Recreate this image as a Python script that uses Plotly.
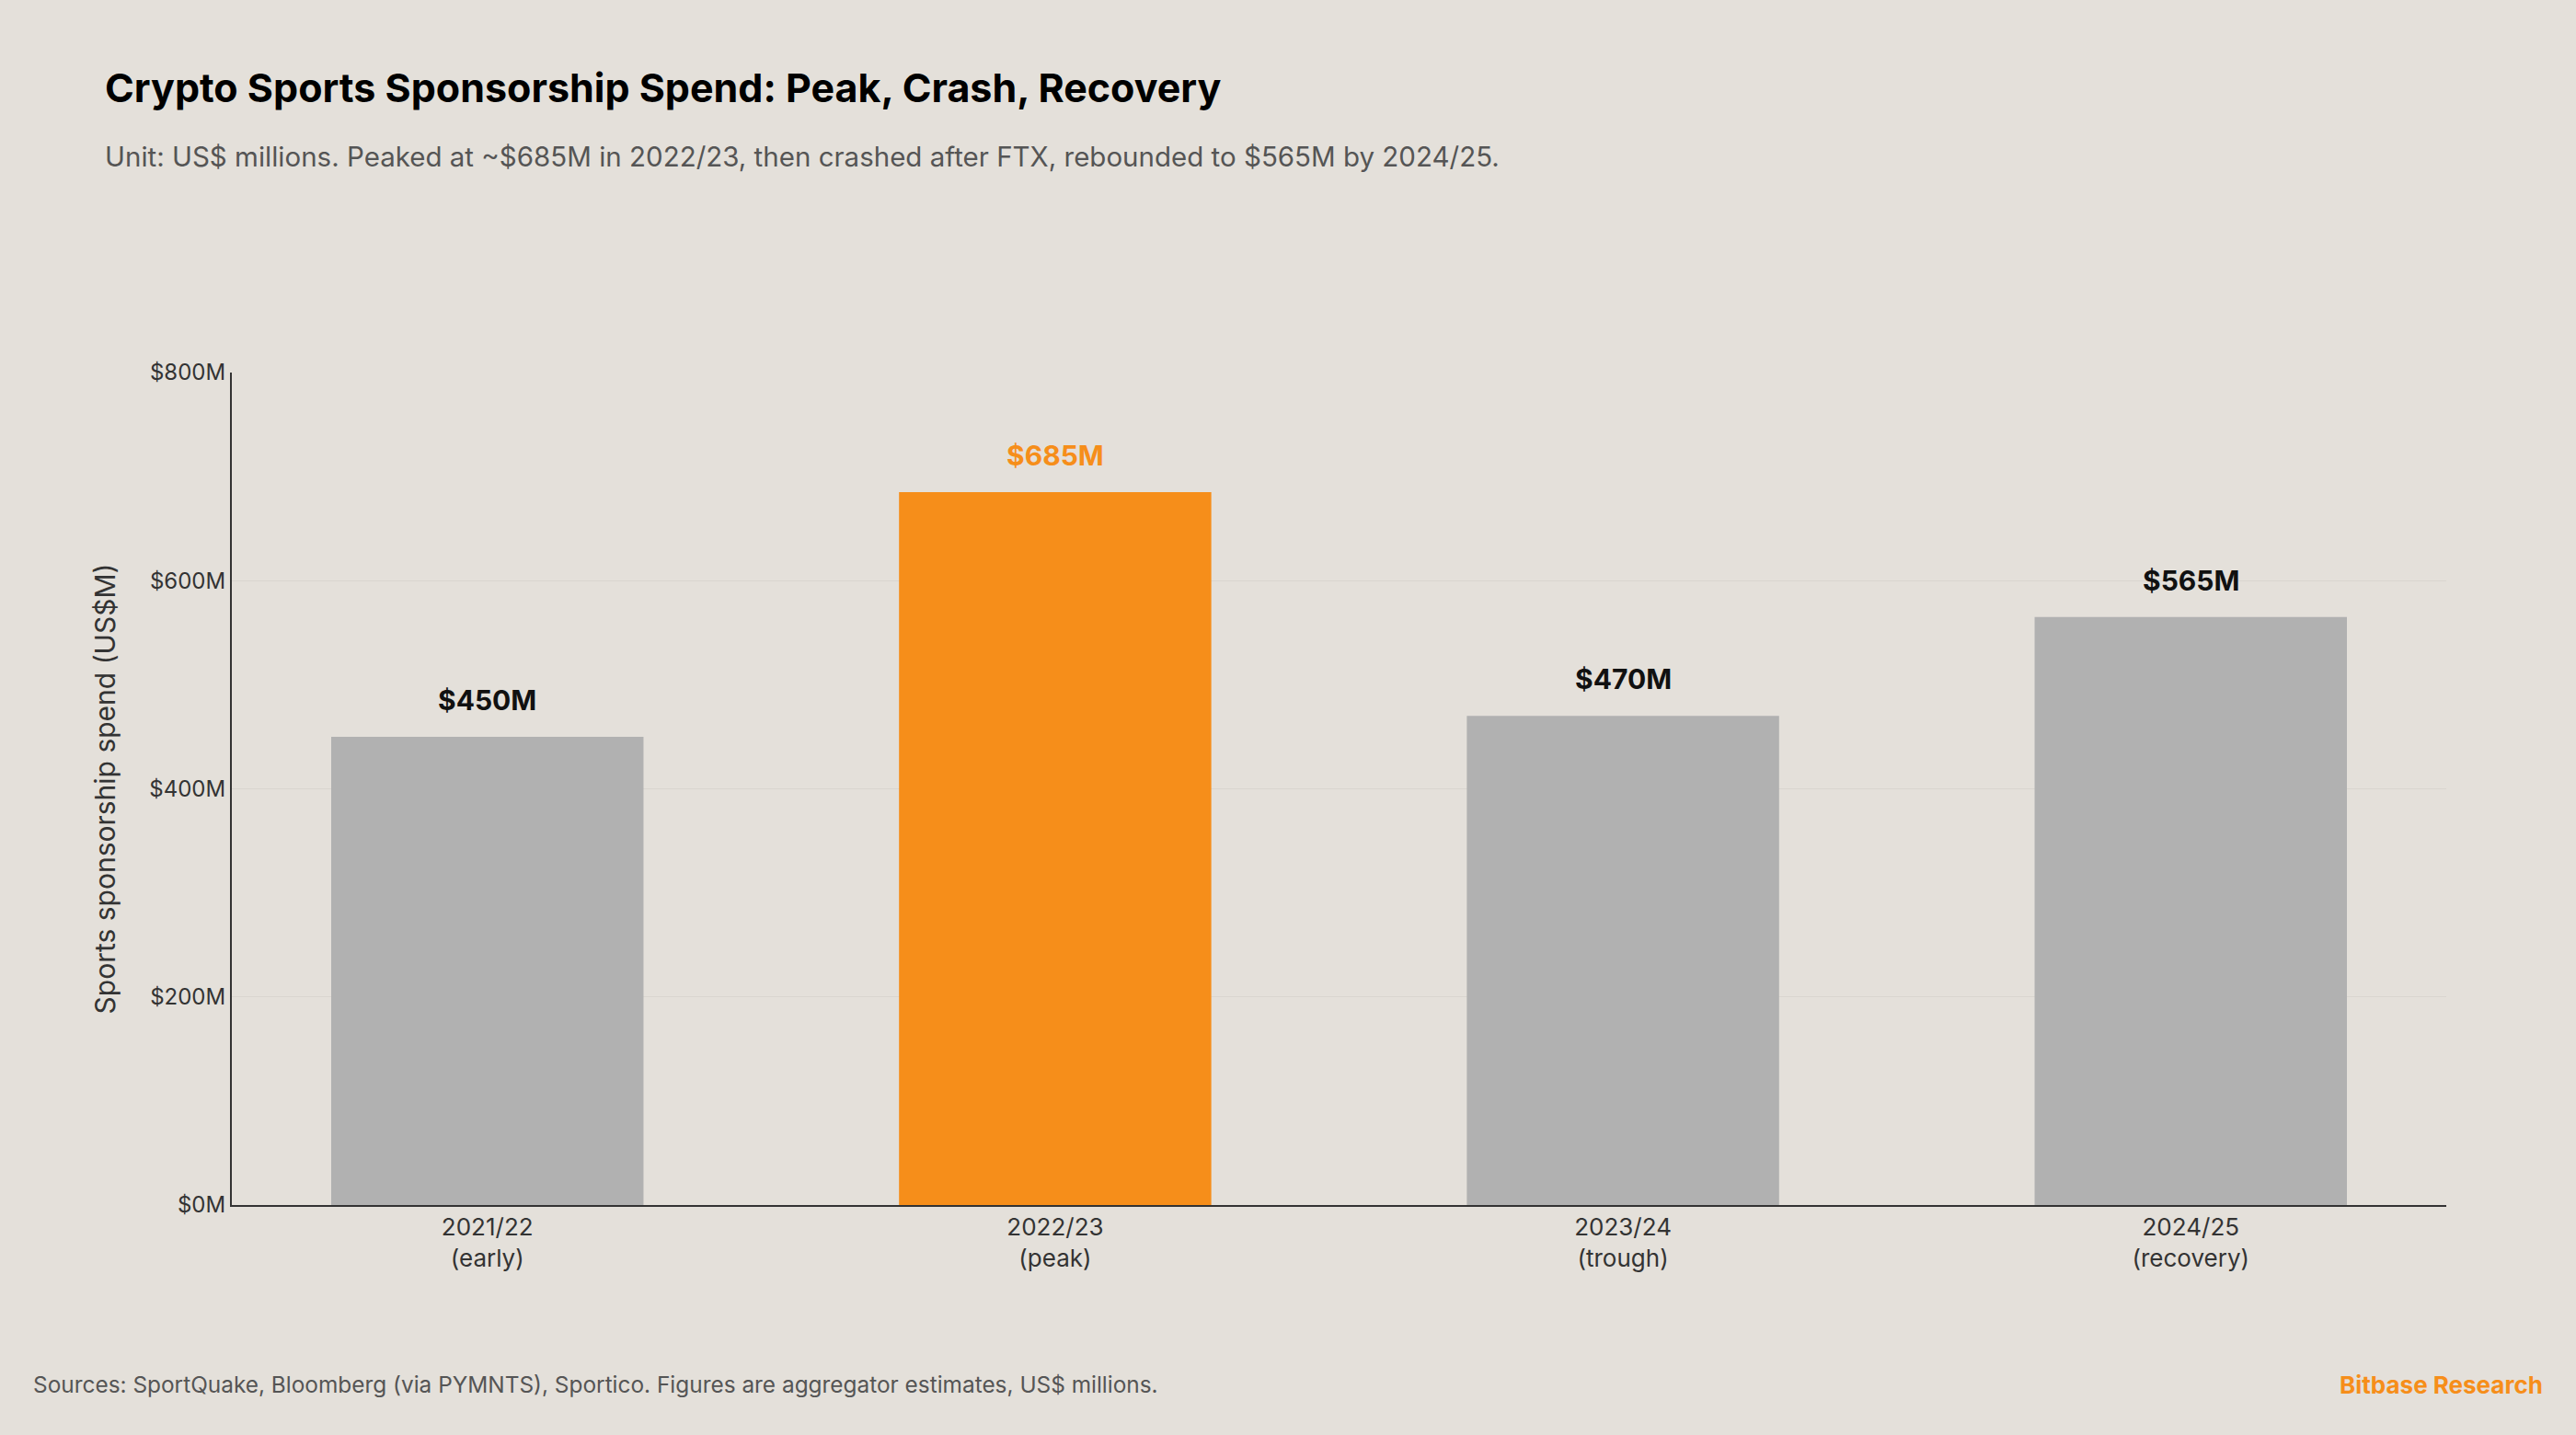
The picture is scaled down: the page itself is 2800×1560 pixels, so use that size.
import plotly.graph_objects as go

categories = ["2021/22<br>(early)", "2022/23<br>(peak)", "2023/24<br>(trough)", "2024/25<br>(recovery)"]
values = [450, 685, 470, 565]
labels = ["$450M", "$685M", "$470M", "$565M"]
highlight = [False, True, False, False]
tick_vals = [0, 200, 400, 600, 800]
tick_text = ["$0M", "$200M", "$400M", "$600M", "$800M"]

ORANGE = "#F68E1A"
GRAY = "#B1B1B1"
BG = "#E4E0DA"
FONT = "Inter, Lato, sans-serif"

colors = [ORANGE if h else GRAY for h in highlight]

fig = go.Figure()
fig.add_trace(go.Bar(x=categories, y=values, marker=dict(color=colors, line=dict(width=0)),
                     width=0.55, hoverinfo="skip"))

for c, v, t, h in zip(categories, values, labels, highlight):
    fig.add_annotation(x=c, y=v, text=f"<b>{t}</b>", showarrow=False, yshift=40,
                       font=dict(family=FONT, size=30, color=ORANGE if h else "#111111"))

fig.update_layout(
    width=2800, height=1560,
    paper_bgcolor=BG, plot_bgcolor=BG,
    margin=dict(l=252, r=141, t=405, b=250),
    showlegend=False,
    font=dict(family=FONT, color="#333333"),
    bargap=0.45,
)
fig.update_xaxes(range=[-0.45, 3.45], showline=True, linecolor="#333333", linewidth=2,
                 showgrid=False, ticks="", tickfont=dict(size=26, color="#333333"))
fig.update_yaxes(range=[0, 800], tickvals=tick_vals, ticktext=tick_text,
                 showline=True, linecolor="#333333", linewidth=2,
                 gridcolor="#D9D5CF", gridwidth=1, zeroline=False, ticks="",
                 tickfont=dict(size=24, color="#333333"),
                 title=dict(text="Sports sponsorship spend (US$M)", font=dict(size=30, color="#333333"), standoff=28))

fig.add_annotation(xref="paper", yref="paper", x=-(252 - 112) / 2407, y=1 + (405 - 95) / 905,
                   text="<b>Crypto Sports Sponsorship Spend: Peak, Crash, Recovery</b>",
                   showarrow=False, xanchor="left", yanchor="middle",
                   font=dict(family=FONT, size=43, color="#000000"))
fig.add_annotation(xref="paper", yref="paper", x=-(252 - 112) / 2407, y=1 + (405 - 170) / 905,
                   text="Unit: US$ millions. Peaked at ~$685M in 2022/23, then crashed after FTX, rebounded to $565M by 2024/25.",
                   showarrow=False, xanchor="left", yanchor="middle",
                   font=dict(family=FONT, size=29.5, color="#555555"))
fig.add_annotation(xref="paper", yref="paper", x=-(252 - 34) / 2407, y=-(1505 - 1310) / 905,
                   text="Sources: SportQuake, Bloomberg (via PYMNTS), Sportico. Figures are aggregator estimates, US$ millions.",
                   showarrow=False, xanchor="left", yanchor="middle",
                   font=dict(family=FONT, size=24.4, color="#555555"))
fig.add_annotation(xref="paper", yref="paper", x=1 + (2766 - 2659) / 2407, y=-(1505 - 1310) / 905,
                   text="<b>Bitbase Research</b>",
                   showarrow=False, xanchor="right", yanchor="middle",
                   font=dict(family=FONT, size=26, color=ORANGE))

fig.write_html("out.html")
